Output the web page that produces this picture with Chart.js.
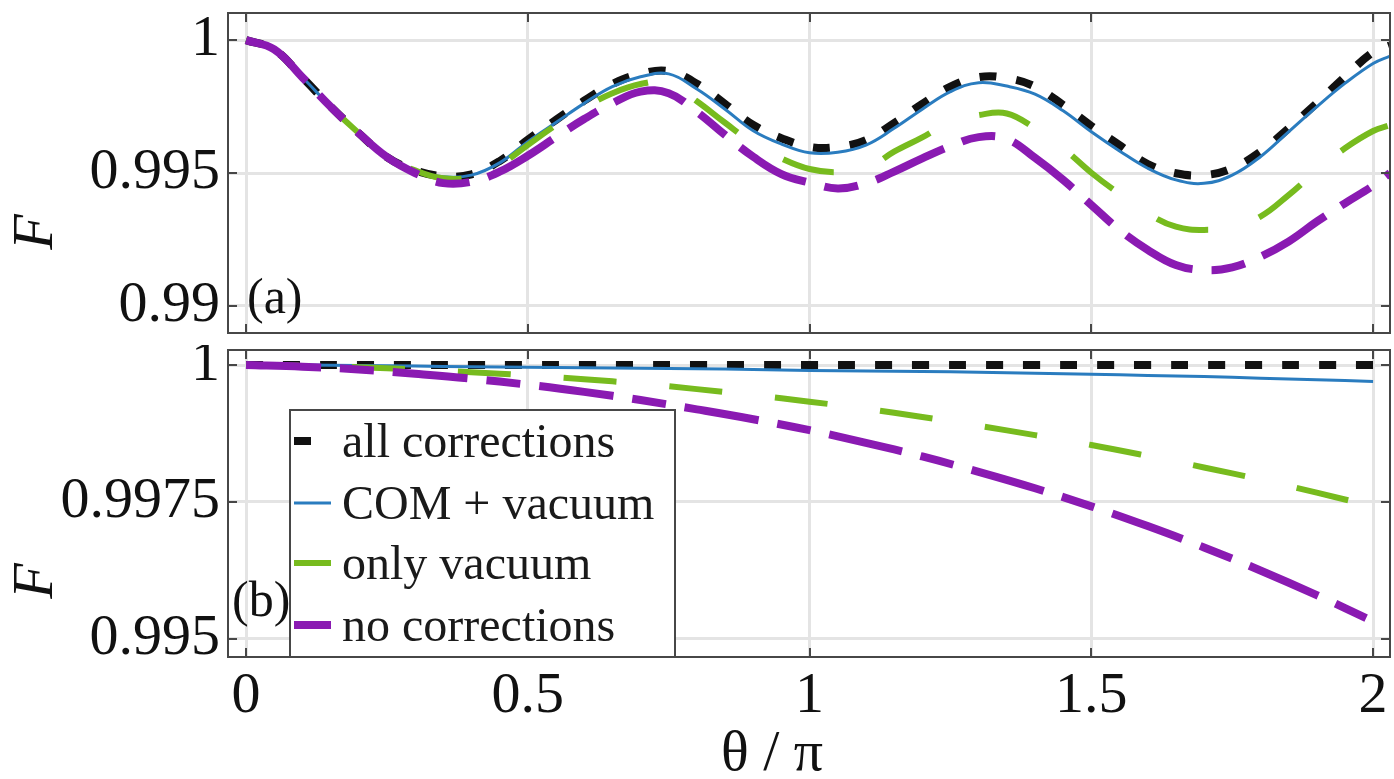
<!DOCTYPE html>
<html>
<head>
<meta charset="utf-8">
<title>F vs theta</title>
<style>
  body { margin: 0; background: #ffffff; }
  #wrap { position: relative; width: 1394px; height: 779px; }
  canvas { position: absolute; left: 0; }
</style>
</head>
<body>
<div id="wrap">
  <canvas id="topPanel" width="1394" height="345" style="top:0px"></canvas>
  <canvas id="botPanel" width="1394" height="434" style="top:345px"></canvas>
</div>

<script src="https://cdn.jsdelivr.net/npm/chart.js@4/dist/chart.umd.min.js"></script>
<script>

// series names / look
var names = ['all corrections', 'COM + vacuum', 'only vacuum', 'no corrections'];
var colors = ['#111111', '#2a7cbf', '#77bb1e', '#8a1ab2'];
var widths = [8, 3, 6, 8];
var dashes = [[17, 20], [], [53, 53], [75, 19, 34, 19]];

// panel (a)
var thetaA = [0, 0.05, 0.1, 0.15, 0.2, 0.25, 0.3, 0.35, 0.4, 0.45, 0.5, 0.55, 0.6, 0.65, 0.7, 0.75,
              0.8, 0.85, 0.9, 0.95, 1.0, 1.05, 1.1, 1.15, 1.2, 1.25, 1.3, 1.35, 1.4, 1.45, 1.5,
              1.55, 1.6, 1.65, 1.7, 1.75, 1.8, 1.85, 1.9, 1.95, 2.0, 2.03];
var allA  = [1.0, 0.99965, 0.9986, 0.9975, 0.9965, 0.9956, 0.9951, 0.99488, 0.99495, 0.99545, 0.99625,
             0.9970, 0.99772, 0.99835, 0.99873, 0.99883, 0.99836, 0.9976, 0.99681, 0.99631, 0.99598,
             0.99598, 0.99624, 0.99688, 0.9976, 0.99825, 0.99861, 0.99857, 0.99825, 0.99756, 0.99677,
             0.99605, 0.99534, 0.99499, 0.99492, 0.99518, 0.9958, 0.99668, 0.99763, 0.99862, 0.99955, 0.9998];
var comA  = [1.0, 0.99965, 0.9986, 0.9975, 0.9965, 0.9956, 0.9951, 0.99486, 0.99492, 0.99538, 0.99618,
             0.9969, 0.99762, 0.99825, 0.99862, 0.99873, 0.99816, 0.9974, 0.99659, 0.99609, 0.99576,
             0.99578, 0.99605, 0.99668, 0.9974, 0.99806, 0.9984, 0.99827, 0.99797, 0.99734, 0.99655,
             0.99583, 0.99518, 0.99474, 0.99461, 0.99492, 0.99561, 0.99655, 0.99749, 0.99837, 0.99912, 0.9994];
var vacA  = [1.0, 0.99965, 0.9986, 0.9975, 0.9965, 0.9956, 0.9951, 0.9948, 0.99485, 0.9953, 0.99605,
             0.9968, 0.99745, 0.998, 0.99835, 0.9984, 0.9977, 0.99689, 0.99612, 0.99555, 0.99515,
             0.99503, 0.99515, 0.9958, 0.99634, 0.99693, 0.99718, 0.99724, 0.99668, 0.99593, 0.99501,
             0.99421, 0.99348, 0.99298, 0.99286, 0.99298, 0.99336, 0.99417, 0.99509, 0.99593, 0.99658, 0.9968];
var noneA = [1.0, 0.99965, 0.9986, 0.9975, 0.9965, 0.9956, 0.995, 0.99462, 0.99467, 0.99505, 0.99565,
             0.99635, 0.99703, 0.99762, 0.99806, 0.998, 0.9973, 0.99643, 0.99561, 0.99496, 0.99464,
             0.99442, 0.99461, 0.99505, 0.99555, 0.99601, 0.99635, 0.99628, 0.99557, 0.99474, 0.9938,
             0.99286, 0.99211, 0.99154, 0.99135, 0.99145, 0.99185, 0.99242, 0.99317, 0.99386, 0.99452, 0.995];

// panel (b)
var thetaB = [0, 0.1, 0.2, 0.3, 0.4, 0.5, 0.6, 0.7, 0.8, 0.9, 1.0, 1.1, 1.2, 1.3, 1.4, 1.5, 1.6, 1.7, 1.8, 1.9, 2.0];
var allB  = [1, 1, 1, 1, 1, 1, 1, 1, 1, 1, 1, 1, 1, 1, 1, 1, 1, 1, 1, 1, 1];
var comB  = [1.0, 1.0, 0.99999, 0.99998, 0.99997, 0.99996, 0.99995, 0.99994, 0.99993, 0.99992, 0.9999,
             0.99989, 0.99988, 0.99987, 0.99985, 0.99983, 0.99981, 0.99979, 0.99976, 0.99973, 0.9997];
var vacB  = [1.0, 0.99999, 0.99996, 0.99992, 0.99987, 0.99981, 0.99974, 0.99966, 0.99956, 0.99945, 0.99933,
             0.9992, 0.99905, 0.99889, 0.99872, 0.99854, 0.99834, 0.99813, 0.99791, 0.99767, 0.99742];
var noneB = [1.0, 0.99997, 0.99992, 0.99984, 0.99975, 0.99964, 0.99951, 0.99936, 0.99919, 0.99901, 0.99881,
             0.99858, 0.99833, 0.99805, 0.99775, 0.99742, 0.99706, 0.99667, 0.99625, 0.9958, 0.99532];

var xTicks = [0, 0.5, 1, 1.5, 2];
var yTicksA = [0.99, 0.995, 1];
var yTicksB = [0.995, 0.9975, 1];

var SERIF = '"Liberation Serif", "DejaVu Serif", serif';

function pts(xs, ys)
{
    return ys.map(function (y, i) { return {x: xs[i], y: y}; });
}

function makeSets(xs, series)
{
    var out = [];
    for (var i = 0; i < series.length; ++i)
    {
        out.push({
            label: names[i],
            data: pts(xs, series[i]),
            borderColor: colors[i],
            backgroundColor: colors[i],
            borderWidth: widths[i],
            borderDash: dashes[i],
            borderCapStyle: 'butt',
            pointRadius: 0,
            fill: false,
            tension: 0.4,
            order: 3 - i
        });
    }
    return out;
}

function makeScales(ymin, ymax, yt, showX, xh)
{
    return {
        x: {
            type: 'linear', min: -0.032, max: 2.03,
            afterBuildTicks: function (s) { s.ticks = xTicks.map(function (v) { return {value: v}; }); },
            afterFit: function (s) { s.height = xh; s.paddingLeft = 0; s.paddingRight = 0; },
            grid: {color: '#e4e4e4', lineWidth: 3, drawTicks: false},
            border: {display: false},
            ticks: {
                display: showX, padding: 5, color: '#111', maxRotation: 0, autoSkip: false,
                font: {family: SERIF, size: 58},
                callback: function (v) { return String(v); }
            }
        },
        y: {
            type: 'linear', min: ymin, max: ymax,
            afterBuildTicks: function (s) { s.ticks = yt.map(function (v) { return {value: v}; }); },
            afterFit: function (s) { s.width = 228; s.paddingTop = 0; s.paddingBottom = 0; },
            grid: {color: '#e4e4e4', lineWidth: 3, drawTicks: false},
            border: {display: false},
            ticks: {
                padding: 8, color: '#111', autoSkip: false,
                font: {family: SERIF, size: 58},
                callback: function (v) { return String(v); }
            }
        }
    };
}

// box, inward ticks, F label, panel label, legend
var framePlugin = {
    id: 'frame',
    afterDraw: function (chart, args, o)
    {
        var ctx = chart.ctx, a = chart.chartArea;
        var xs = chart.scales.x, ys = chart.scales.y;
        ctx.save();

        ctx.strokeStyle = '#474747';
        ctx.lineWidth = 2;
        ctx.setLineDash([]);
        ctx.strokeRect(a.left, a.top, a.right - a.left, a.bottom - a.top);
        ctx.beginPath();
        xs.ticks.forEach(function (t) {
            var px = Math.round(xs.getPixelForValue(t.value));
            ctx.moveTo(px, a.bottom); ctx.lineTo(px, a.bottom - 9);
            ctx.moveTo(px, a.top); ctx.lineTo(px, a.top + 9);
        });
        ys.ticks.forEach(function (t) {
            var py = Math.round(ys.getPixelForValue(t.value));
            ctx.moveTo(a.left, py); ctx.lineTo(a.left + 9, py);
            ctx.moveTo(a.right, py); ctx.lineTo(a.right - 9, py);
        });
        ctx.stroke();

        if (o.legend)
        {
            var L = o.legend;
            ctx.fillStyle = '#ffffff';
            ctx.fillRect(L.x, L.y, L.w, a.bottom - L.y);
            ctx.strokeStyle = '#474747';
            ctx.lineWidth = 2;
            ctx.strokeRect(L.x, L.y, L.w, a.bottom - L.y);
            ctx.font = '48px ' + SERIF;
            ctx.textAlign = 'left';
            ctx.textBaseline = 'middle';
            for (var i = 0; i < names.length; ++i)
            {
                var ly = L.rows[i];
                ctx.strokeStyle = colors[i];
                ctx.lineWidth = widths[i];
                ctx.setLineDash(dashes[i]);
                ctx.lineCap = 'butt';
                ctx.beginPath();
                ctx.moveTo(L.x + 4, ly);
                ctx.lineTo(L.x + 41, ly);
                ctx.stroke();
                ctx.setLineDash([]);
                ctx.fillStyle = '#1a1a1a';
                ctx.fillText(names[i], L.x + 52, ly + 3);
            }
        }

        ctx.fillStyle = '#111';
        ctx.font = '50px ' + SERIF;
        ctx.textAlign = 'left';
        ctx.textBaseline = 'middle';
        ctx.fillText(o.panel, o.px, o.py);

        if (o.xtitle)
        {
            ctx.font = '58px ' + SERIF;
            ctx.textAlign = 'center';
            ctx.fillText('\u03b8 / \u03c0', o.xtitle.x, o.xtitle.y);
        }

        ctx.translate(o.fx, o.fy);
        ctx.rotate(-Math.PI / 2);
        ctx.font = 'italic 58px ' + SERIF;
        ctx.textAlign = 'center';
        ctx.textBaseline = 'middle';
        ctx.fillText('F', 0, 0);

        ctx.restore();
    }
};

function panel(id, xs, series, scales, pad, opts)
{
    var ctx = document.getElementById(id).getContext('2d');
    return new Chart(ctx, {
        type: 'line',
        data: {datasets: makeSets(xs, series)},
        options: {
            responsive: false,
            animation: false,
            devicePixelRatio: 1,
            layout: {padding: pad, autoPadding: false},
            scales: scales,
            plugins: {
                legend: {display: false},
                tooltip: {enabled: false},
                frame: opts
            }
        },
        plugins: [framePlugin]
    });
}

panel('topPanel', thetaA, [allA, comA, vacA, noneA],
      makeScales(0.98898, 1.00102, yTicksA, false, 12),
      {top: 13, right: 4, left: 0, bottom: 0},
      {fx: 37, fy: 232, panel: '(a)', px: 247, py: 300});

panel('botPanel', thetaB, [allB, comB, vacB, noneB],
      makeScales(0.99467, 1.000274, yTicksB, true, 122),
      {top: 5, right: 4, left: 0, bottom: 0},
      {fx: 37, fy: 236, panel: '(b)', px: 232, py: 258,
       xtitle: {x: 772, y: 410},
       legend: {x: 290, y: 65, w: 385, rows: [96, 158, 218, 280]}});

</script>
</body>
</html>
